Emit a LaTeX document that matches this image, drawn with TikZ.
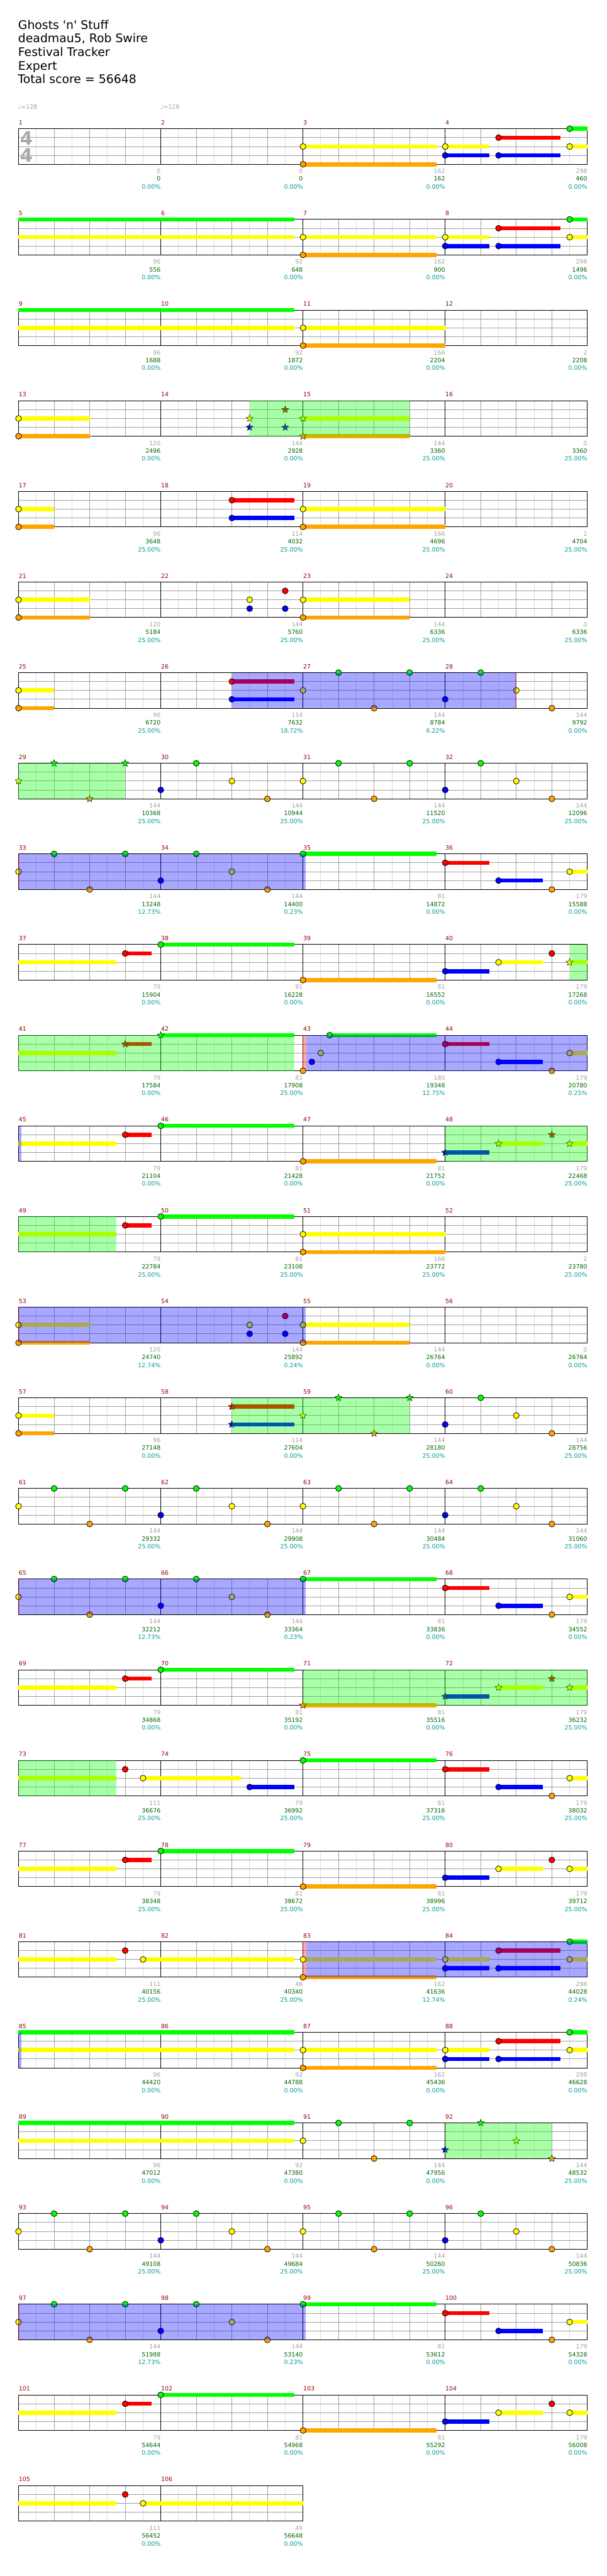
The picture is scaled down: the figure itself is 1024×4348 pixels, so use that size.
\documentclass[tikz,border=0pt]{standalone}
\usepackage{fontspec}
\setmainfont{DejaVu Sans}[Ligatures=TeXOff]
\usetikzlibrary{shapes.geometric}
\definecolor{nG}{RGB}{0,255,0}
\definecolor{nR}{RGB}{255,0,0}
\definecolor{nY}{RGB}{255,255,0}
\definecolor{nB}{RGB}{0,0,255}
\definecolor{nO}{RGB}{255,165,0}
\definecolor{gridlight}{RGB}{221,221,221}
\definecolor{gridmid}{RGB}{160,160,160}
\definecolor{mnum}{RGB}{150,0,0}
\definecolor{lgray}{RGB}{160,160,160}
\definecolor{lgreen}{RGB}{0,100,0}
\definecolor{lteal}{RGB}{0,153,153}
\definecolor{tsgray}{RGB}{170,170,170}
\definecolor{darkred}{RGB}{128,0,0}
\pgfdeclarelayer{grid}
\pgfdeclarelayer{sus}
\pgfdeclarelayer{over}
\pgfdeclarelayer{top}
\pgfsetlayers{grid,sus,main,over,top}
\tikzset{
 notest/.style={draw=black,line width=0.8pt},
 starst/.style={star,star points=5,star point ratio=2.3,minimum size=12.5pt,inner sep=0pt,draw=black,line width=0.5pt},
 hdr/.style={anchor=base west,inner sep=0pt,font=\fontsize{20}{23}\selectfont},
 tempost/.style={anchor=base west,inner sep=0pt,text=lgray,font=\fontsize{10}{12}\selectfont},
 tsig/.style={anchor=center,inner sep=0pt,text=tsgray,font=\fontsize{31}{31}\selectfont\bfseries},
 mnumst/.style={anchor=base west,inner sep=0pt,text=mnum,font=\fontsize{10}{12}\selectfont},
 lonest/.style={anchor=base east,inner sep=0pt,text=lgray,font=\fontsize{10}{12}\selectfont},
 ltwost/.style={anchor=base east,inner sep=0pt,text=lgreen,font=\fontsize{10}{12}\selectfont},
 lthreest/.style={anchor=base east,inner sep=0pt,text=lteal,font=\fontsize{10}{12}\selectfont},
}
\newcommand\Xb[1]{31.3+60*(#1)}
\newcommand\Yl[2]{217.3+153*(#1)+15*(#2)}
\newcommand\Nt[4]{\filldraw[notest,fill=#4] ({\Xb{#2}},{\Yl{#1}{#3}}) circle[radius=5];}
\newcommand\St[4]{\node[starst,fill=#4] at ({\Xb{#2}},{\Yl{#1}{#3}}) {};}
\newcommand\Su[5]{\begin{pgfonlayer}{sus}\fill[#5] ({\Xb{#2}},{\Yl{#1}{#4}-3.5}) rectangle ({\Xb{#3}},{\Yl{#1}{#4}+3.5});\end{pgfonlayer}}
\newcommand\GR[3]{\begin{pgfonlayer}{over}\fill[nG,fill opacity=0.34] ({\Xb{#2}},{\Yl{#1}{0}}) rectangle ({\Xb{#3}},{\Yl{#1}{4}});\end{pgfonlayer}}
\newcommand\BR[3]{\begin{pgfonlayer}{over}\fill[nB,fill opacity=0.34] ({\Xb{#2}},{\Yl{#1}{0}}) rectangle ({\Xb{#3}},{\Yl{#1}{4}});\end{pgfonlayer}}
\newcommand\PL[3]{\begin{pgfonlayer}{over}\fill[nR,fill opacity=0.34] ({\Xb{#2}},{\Yl{#1}{0}}) rectangle ({\Xb{#2}+#3},{\Yl{#1}{4}});\end{pgfonlayer}}
\newcommand\DR[2]{\begin{pgfonlayer}{over}\draw[darkred,line width=1pt] ({\Xb{#2}},{\Yl{#1}{0}}) -- ({\Xb{#2}},{\Yl{#1}{4}});\end{pgfonlayer}}
\newcommand\TopNt[4]{\begin{pgfonlayer}{top}\Nt{#1}{#2}{#3}{#4}\end{pgfonlayer}}
\newcommand\Grid[2]{%
\begin{pgfonlayer}{grid}
\pgfmathtruncatemacro\gnl{8*#2-1}
\foreach \i in {1,3,...,\gnl}{\draw[gridlight,line width=1pt] ({31.3+30*\i},{\Yl{#1}{0}}) -- ({31.3+30*\i},{\Yl{#1}{4}});}
\pgfmathtruncatemacro\gnb{4*#2-1}
\foreach \i in {1,...,\gnb}{\draw[gridmid,line width=1pt] ({\Xb{\i}},{\Yl{#1}{0}}) -- ({\Xb{\i}},{\Yl{#1}{4}});}
\foreach \l in {1,2,3}{\draw[gridmid,line width=1pt] ({\Xb{0}},{\Yl{#1}{\l}}) -- ({\Xb{4*#2}},{\Yl{#1}{\l}});}
\pgfmathtruncatemacro\gnm{#2-1}
\foreach \m in {1,...,\gnm}{\draw[black,line width=1pt] ({\Xb{4*\m}},{\Yl{#1}{0}}) -- ({\Xb{4*\m}},{\Yl{#1}{4}});}
\draw[black,line width=1pt] ({\Xb{0}},{\Yl{#1}{0}}) rectangle ({\Xb{4*#2}},{\Yl{#1}{4}});
\end{pgfonlayer}}
\newcommand\ML[6]{%
\node[mnumst] at ({\Xb{4*(#2)}+0.3},{\Yl{#1}{0}-6.6}) {#3};
\node[lonest] at ({\Xb{4*(#2)+4}},{\Yl{#1}{4}+15.4}) {#4};
\node[ltwost] at ({\Xb{4*(#2)+4}},{\Yl{#1}{4}+28.4}) {#5};
\node[lthreest] at ({\Xb{4*(#2)+4}},{\Yl{#1}{4}+41.7}) {#6\%};}
% patterns
\newcommand\Half[2]{\Nt{#1}{#2}{2}{nY}\Nt{#1}{#2+1}{0}{nG}\Nt{#1}{#2+2}{4}{nO}\Nt{#1}{#2+3}{0}{nG}\Nt{#1}{#2+4}{3}{nB}\Nt{#1}{#2+5}{0}{nG}\Nt{#1}{#2+6}{2}{nY}\Nt{#1}{#2+7}{4}{nO}}
\newcommand\PatB[1]{\Su{#1}{12}{13.25}{2}{nY}\Nt{#1}{12}{2}{nY}\Su{#1}{12}{13.25}{3}{nB}\Nt{#1}{12}{3}{nB}%
\Su{#1}{13.5}{15.25}{1}{nR}\Nt{#1}{13.5}{1}{nR}\Su{#1}{13.5}{15.25}{3}{nB}\Nt{#1}{13.5}{3}{nB}%
\Su{#1}{15.5}{16}{0}{nG}\Nt{#1}{15.5}{0}{nG}\Su{#1}{15.5}{16}{2}{nY}\Nt{#1}{15.5}{2}{nY}}
\newcommand\PatA[1]{\Su{#1}{8}{11.75}{2}{nY}\Nt{#1}{8}{2}{nY}\Su{#1}{8}{11.75}{4}{nO}\Nt{#1}{8}{4}{nO}\PatB{#1}}
\newcommand\PatD[1]{\Su{#1}{8}{11.75}{0}{nG}\Nt{#1}{8}{0}{nG}\Su{#1}{12}{13.25}{1}{nR}\Nt{#1}{12}{1}{nR}%
\Su{#1}{13.5}{14.75}{3}{nB}\Nt{#1}{13.5}{3}{nB}\Nt{#1}{15}{4}{nO}\Su{#1}{15.5}{16}{2}{nY}\Nt{#1}{15.5}{2}{nY}}
\newcommand\PatE[1]{\Su{#1}{0}{2.75}{2}{nY}\Su{#1}{3}{3.75}{1}{nR}\Nt{#1}{3}{1}{nR}\Su{#1}{4}{7.75}{0}{nG}\Nt{#1}{4}{0}{nG}%
\Su{#1}{8}{11.75}{4}{nO}\Nt{#1}{8}{4}{nO}\Su{#1}{12}{13.25}{3}{nB}\Nt{#1}{12}{3}{nB}%
\Su{#1}{13.5}{14.75}{2}{nY}\Nt{#1}{13.5}{2}{nY}\Nt{#1}{15}{1}{nR}\Su{#1}{15.5}{16}{2}{nY}}
\begin{document}
\begin{tikzpicture}[x=1pt,y=-1pt]
\useasboundingbox (0,0) rectangle (1024,4348);
% header
\node[hdr] (title) at (30.5,49.3) {Ghosts 'n' Stuff};
\node[hdr] (artist) at (30.5,72) {deadmau5, Rob Swire};
\node[hdr] (album) at (30.5,95) {Festival Tracker};
\node[hdr] (diff) at (30.5,118) {Expert};
\node[hdr] (total) at (30,141) {Total score = 56648};
\node[tempost] (t1) at (30.5,184.3) {♩=128};
\node[tempost] (t2) at (270.5,184.3) {♩=128};
\node[tsig] (ts1) at (44.5,233) {4};
\node[tsig] (ts2) at (44.5,262.5) {4};
% grids
\foreach \r in {0,...,25}{\Grid{\r}{4}}
\Grid{26}{2}
% row 0
\PatA{0}
\ML{0}{0}{1}{0}{0}{0.00}\ML{0}{1}{2}{0}{0}{0.00}\ML{0}{2}{3}{162}{162}{0.00}\ML{0}{3}{4}{298}{460}{0.00}
% row 1
\Su{1}{0}{7.75}{0}{nG}\Su{1}{0}{7.75}{2}{nY}\PatA{1}
\ML{1}{0}{5}{96}{556}{0.00}\ML{1}{1}{6}{92}{648}{0.00}\ML{1}{2}{7}{162}{900}{0.00}\ML{1}{3}{8}{298}{1496}{0.00}
% row 2
\Su{2}{0}{7.75}{0}{nG}\Su{2}{0}{7.75}{2}{nY}
\Su{2}{8}{12}{2}{nY}\Nt{2}{8}{2}{nY}\Su{2}{8}{12}{4}{nO}\Nt{2}{8}{4}{nO}
\ML{2}{0}{9}{96}{1688}{0.00}\ML{2}{1}{10}{92}{1872}{0.00}\ML{2}{2}{11}{166}{2204}{0.00}\ML{2}{3}{12}{2}{2208}{0.00}
% row 3
\Su{3}{0}{2}{2}{nY}\Nt{3}{0}{2}{nY}\Su{3}{0}{2}{4}{nO}\Nt{3}{0}{4}{nO}
\St{3}{6.5}{2}{nY}\St{3}{6.5}{3}{nB}\St{3}{7.5}{1}{nR}\St{3}{7.5}{3}{nB}
\Su{3}{8}{11}{2}{nY}\St{3}{8}{2}{nY}\Su{3}{8}{11}{4}{nO}\St{3}{8}{4}{nO}
\GR{3}{6.5}{11}
\ML{3}{0}{13}{120}{2496}{0.00}\ML{3}{1}{14}{144}{2928}{0.00}\ML{3}{2}{15}{144}{3360}{25.00}\ML{3}{3}{16}{0}{3360}{25.00}
% row 4
\Su{4}{0}{1}{2}{nY}\Nt{4}{0}{2}{nY}\Su{4}{0}{1}{4}{nO}\Nt{4}{0}{4}{nO}
\Su{4}{6}{7.75}{1}{nR}\Nt{4}{6}{1}{nR}\Su{4}{6}{7.75}{3}{nB}\Nt{4}{6}{3}{nB}
\Su{4}{8}{12}{2}{nY}\Nt{4}{8}{2}{nY}\Su{4}{8}{12}{4}{nO}\Nt{4}{8}{4}{nO}
\ML{4}{0}{17}{96}{3648}{25.00}\ML{4}{1}{18}{114}{4032}{25.00}\ML{4}{2}{19}{166}{4696}{25.00}\ML{4}{3}{20}{2}{4704}{25.00}
% row 5
\Su{5}{0}{2}{2}{nY}\Nt{5}{0}{2}{nY}\Su{5}{0}{2}{4}{nO}\Nt{5}{0}{4}{nO}
\Nt{5}{6.5}{2}{nY}\Nt{5}{6.5}{3}{nB}\Nt{5}{7.5}{1}{nR}\Nt{5}{7.5}{3}{nB}
\Su{5}{8}{11}{2}{nY}\Nt{5}{8}{2}{nY}\Su{5}{8}{11}{4}{nO}\Nt{5}{8}{4}{nO}
\ML{5}{0}{21}{120}{5184}{25.00}\ML{5}{1}{22}{144}{5760}{25.00}\ML{5}{2}{23}{144}{6336}{25.00}\ML{5}{3}{24}{0}{6336}{25.00}
% row 6
\Su{6}{0}{1}{2}{nY}\Nt{6}{0}{2}{nY}\Su{6}{0}{1}{4}{nO}\Nt{6}{0}{4}{nO}
\Su{6}{6}{7.75}{1}{nR}\Nt{6}{6}{1}{nR}\Su{6}{6}{7.75}{3}{nB}\Nt{6}{6}{3}{nB}
\Half{6}{8}
\BR{6}{6}{14}\PL{6}{14}{-2}
\ML{6}{0}{25}{96}{6720}{25.00}\ML{6}{1}{26}{114}{7632}{18.72}\ML{6}{2}{27}{144}{8784}{6.22}\ML{6}{3}{28}{144}{9792}{0.00}
% row 7
\St{7}{0}{2}{nY}\St{7}{1}{0}{nG}\St{7}{2}{4}{nO}\St{7}{3}{0}{nG}
\Nt{7}{4}{3}{nB}\Nt{7}{5}{0}{nG}\Nt{7}{6}{2}{nY}\Nt{7}{7}{4}{nO}
\Half{7}{8}
\GR{7}{0}{3}
\ML{7}{0}{29}{144}{10368}{25.00}\ML{7}{1}{30}{144}{10944}{25.00}\ML{7}{2}{31}{144}{11520}{25.00}\ML{7}{3}{32}{144}{12096}{25.00}
% row 8
\Half{8}{0}\PatD{8}
\BR{8}{0}{8.08}\PL{8}{0}{2}
\ML{8}{0}{33}{144}{13248}{12.73}\ML{8}{1}{34}{144}{14400}{0.23}\ML{8}{2}{35}{81}{14872}{0.00}\ML{8}{3}{36}{179}{15588}{0.00}
% row 9
\PatE{9}\St{9}{15.5}{2}{nY}
\GR{9}{15.5}{16}
\ML{9}{0}{37}{79}{15904}{0.00}\ML{9}{1}{38}{81}{16228}{0.00}\ML{9}{2}{39}{81}{16552}{0.00}\ML{9}{3}{40}{179}{17268}{0.00}
% row 10
\Su{10}{0}{2.75}{2}{nY}
\Su{10}{3}{3.75}{1}{nR}\St{10}{3}{1}{nR}
\Su{10}{4}{7.75}{0}{nG}\St{10}{4}{0}{nG}
\GR{10}{0}{7.75}
\Nt{10}{8.25}{3}{nB}\Nt{10}{8.5}{2}{nY}
\Su{10}{8.75}{11.75}{0}{nG}\Nt{10}{8.75}{0}{nG}
\Su{10}{12}{13.25}{1}{nR}\Nt{10}{12}{1}{nR}
\Su{10}{13.5}{14.75}{3}{nB}\Nt{10}{13.5}{3}{nB}
\Nt{10}{15}{4}{nO}
\Su{10}{15.5}{16}{2}{nY}\Nt{10}{15.5}{2}{nY}
\BR{10}{8.1}{16}\PL{10}{8}{6}\DR{10}{8}
\TopNt{10}{8}{4}{nO}
\ML{10}{0}{41}{79}{17584}{0.00}\ML{10}{1}{42}{81}{17908}{25.00}\ML{10}{2}{43}{180}{19348}{12.75}\ML{10}{3}{44}{179}{20780}{0.25}
% row 11
\Su{11}{0}{2.75}{2}{nY}
\Su{11}{3}{3.75}{1}{nR}\Nt{11}{3}{1}{nR}
\Su{11}{4}{7.75}{0}{nG}\Nt{11}{4}{0}{nG}
\Su{11}{8}{11.75}{4}{nO}\Nt{11}{8}{4}{nO}
\Su{11}{12}{13.25}{3}{nB}\St{11}{12}{3}{nB}
\Su{11}{13.5}{14.75}{2}{nY}\St{11}{13.5}{2}{nY}
\St{11}{15}{1}{nR}
\Su{11}{15.5}{16}{2}{nY}\St{11}{15.5}{2}{nY}
\GR{11}{12}{16}\BR{11}{0}{0.08}
\ML{11}{0}{45}{79}{21104}{0.00}\ML{11}{1}{46}{81}{21428}{0.00}\ML{11}{2}{47}{81}{21752}{0.00}\ML{11}{3}{48}{179}{22468}{25.00}
% row 12
\Su{12}{0}{2.75}{2}{nY}
\Su{12}{3}{3.75}{1}{nR}\Nt{12}{3}{1}{nR}
\Su{12}{4}{7.75}{0}{nG}\Nt{12}{4}{0}{nG}
\Su{12}{8}{12}{2}{nY}\Nt{12}{8}{2}{nY}\Su{12}{8}{12}{4}{nO}\Nt{12}{8}{4}{nO}
\GR{12}{0}{2.75}
\ML{12}{0}{49}{79}{22784}{25.00}\ML{12}{1}{50}{81}{23108}{25.00}\ML{12}{2}{51}{166}{23772}{25.00}\ML{12}{3}{52}{2}{23780}{25.00}
% row 13
\Su{13}{0}{2}{2}{nY}\Nt{13}{0}{2}{nY}\Su{13}{0}{2}{4}{nO}\Nt{13}{0}{4}{nO}
\Nt{13}{6.5}{2}{nY}\Nt{13}{6.5}{3}{nB}\Nt{13}{7.5}{1}{nR}\Nt{13}{7.5}{3}{nB}
\Su{13}{8}{11}{2}{nY}\Nt{13}{8}{2}{nY}\Su{13}{8}{11}{4}{nO}\Nt{13}{8}{4}{nO}
\BR{13}{0}{8.08}\PL{13}{0}{2}
\ML{13}{0}{53}{120}{24740}{12.74}\ML{13}{1}{54}{144}{25892}{0.24}\ML{13}{2}{55}{144}{26764}{0.00}\ML{13}{3}{56}{0}{26764}{0.00}
% row 14
\Su{14}{0}{1}{2}{nY}\Nt{14}{0}{2}{nY}\Su{14}{0}{1}{4}{nO}\Nt{14}{0}{4}{nO}
\Su{14}{6}{7.75}{1}{nR}\St{14}{6}{1}{nR}\Su{14}{6}{7.75}{3}{nB}\St{14}{6}{3}{nB}
\St{14}{8}{2}{nY}\St{14}{9}{0}{nG}\St{14}{10}{4}{nO}\St{14}{11}{0}{nG}
\Nt{14}{12}{3}{nB}\Nt{14}{13}{0}{nG}\Nt{14}{14}{2}{nY}\Nt{14}{15}{4}{nO}
\GR{14}{6}{11}
\ML{14}{0}{57}{96}{27148}{0.00}\ML{14}{1}{58}{114}{27604}{0.00}\ML{14}{2}{59}{144}{28180}{25.00}\ML{14}{3}{60}{144}{28756}{25.00}
% row 15
\Half{15}{0}\Half{15}{8}
\ML{15}{0}{61}{144}{29332}{25.00}\ML{15}{1}{62}{144}{29908}{25.00}\ML{15}{2}{63}{144}{30484}{25.00}\ML{15}{3}{64}{144}{31060}{25.00}
% row 16
\Half{16}{0}\PatD{16}
\BR{16}{0}{8.08}\PL{16}{0}{2}
\ML{16}{0}{65}{144}{32212}{12.73}\ML{16}{1}{66}{144}{33364}{0.23}\ML{16}{2}{67}{81}{33836}{0.00}\ML{16}{3}{68}{179}{34552}{0.00}
% row 17
\Su{17}{0}{2.75}{2}{nY}
\Su{17}{3}{3.75}{1}{nR}\Nt{17}{3}{1}{nR}
\Su{17}{4}{7.75}{0}{nG}\Nt{17}{4}{0}{nG}
\Su{17}{8}{11.75}{4}{nO}\St{17}{8}{4}{nO}
\Su{17}{12}{13.25}{3}{nB}\St{17}{12}{3}{nB}
\Su{17}{13.5}{14.75}{2}{nY}\St{17}{13.5}{2}{nY}
\St{17}{15}{1}{nR}
\Su{17}{15.5}{16}{2}{nY}\St{17}{15.5}{2}{nY}
\GR{17}{8}{16}
\ML{17}{0}{69}{79}{34868}{0.00}\ML{17}{1}{70}{81}{35192}{0.00}\ML{17}{2}{71}{81}{35516}{0.00}\ML{17}{3}{72}{179}{36232}{25.00}
% row 18
\Su{18}{0}{2.75}{2}{nY}
\Nt{18}{3}{1}{nR}
\Su{18}{3.5}{6.25}{2}{nY}\Nt{18}{3.5}{2}{nY}
\Su{18}{6.5}{7.75}{3}{nB}\Nt{18}{6.5}{3}{nB}
\PatD{18}
\GR{18}{0}{2.75}
\ML{18}{0}{73}{111}{36676}{25.00}\ML{18}{1}{74}{79}{36992}{25.00}\ML{18}{2}{75}{81}{37316}{25.00}\ML{18}{3}{76}{179}{38032}{25.00}
% row 19
\PatE{19}\Nt{19}{15.5}{2}{nY}
\ML{19}{0}{77}{79}{38348}{25.00}\ML{19}{1}{78}{81}{38672}{25.00}\ML{19}{2}{79}{81}{38996}{25.00}\ML{19}{3}{80}{179}{39712}{25.00}
% row 20
\Su{20}{0}{2.75}{2}{nY}
\Nt{20}{3}{1}{nR}
\Su{20}{3.5}{7.75}{2}{nY}\Nt{20}{3.5}{2}{nY}
\Su{20}{8}{11.75}{2}{nY}\Su{20}{8}{11.75}{4}{nO}
\PatB{20}
\BR{20}{8.1}{16}\PL{20}{8}{6}\DR{20}{8}
\TopNt{20}{8}{2}{nY}\TopNt{20}{8}{4}{nO}
\ML{20}{0}{81}{111}{40156}{25.00}\ML{20}{1}{82}{46}{40340}{25.00}\ML{20}{2}{83}{162}{41636}{12.74}\ML{20}{3}{84}{298}{44028}{0.24}
% row 21
\Su{21}{0}{7.75}{0}{nG}\Su{21}{0}{7.75}{2}{nY}\PatA{21}
\BR{21}{0}{0.08}
\ML{21}{0}{85}{96}{44420}{0.00}\ML{21}{1}{86}{92}{44788}{0.00}\ML{21}{2}{87}{162}{45436}{0.00}\ML{21}{3}{88}{298}{46628}{0.00}
% row 22
\Su{22}{0}{7.75}{0}{nG}\Su{22}{0}{7.75}{2}{nY}
\Nt{22}{8}{2}{nY}\Nt{22}{9}{0}{nG}\Nt{22}{10}{4}{nO}\Nt{22}{11}{0}{nG}
\St{22}{12}{3}{nB}\St{22}{13}{0}{nG}\St{22}{14}{2}{nY}\St{22}{15}{4}{nO}
\GR{22}{12}{15}
\ML{22}{0}{89}{96}{47012}{0.00}\ML{22}{1}{90}{92}{47380}{0.00}\ML{22}{2}{91}{144}{47956}{0.00}\ML{22}{3}{92}{144}{48532}{25.00}
% row 23
\Half{23}{0}\Half{23}{8}
\ML{23}{0}{93}{144}{49108}{25.00}\ML{23}{1}{94}{144}{49684}{25.00}\ML{23}{2}{95}{144}{50260}{25.00}\ML{23}{3}{96}{144}{50836}{25.00}
% row 24
\Half{24}{0}\PatD{24}
\BR{24}{0}{8.08}\PL{24}{0}{2}
\ML{24}{0}{97}{144}{51988}{12.73}\ML{24}{1}{98}{144}{53140}{0.23}\ML{24}{2}{99}{81}{53612}{0.00}\ML{24}{3}{100}{179}{54328}{0.00}
% row 25
\PatE{25}\Nt{25}{15.5}{2}{nY}
\ML{25}{0}{101}{79}{54644}{0.00}\ML{25}{1}{102}{81}{54968}{0.00}\ML{25}{2}{103}{81}{55292}{0.00}\ML{25}{3}{104}{179}{56008}{0.00}
% row 26
\Su{26}{0}{2.75}{2}{nY}
\Nt{26}{3}{1}{nR}
\Su{26}{3.5}{8}{2}{nY}\Nt{26}{3.5}{2}{nY}
\ML{26}{0}{105}{111}{56452}{0.00}\ML{26}{1}{106}{49}{56648}{0.00}
\end{tikzpicture}
\end{document}
